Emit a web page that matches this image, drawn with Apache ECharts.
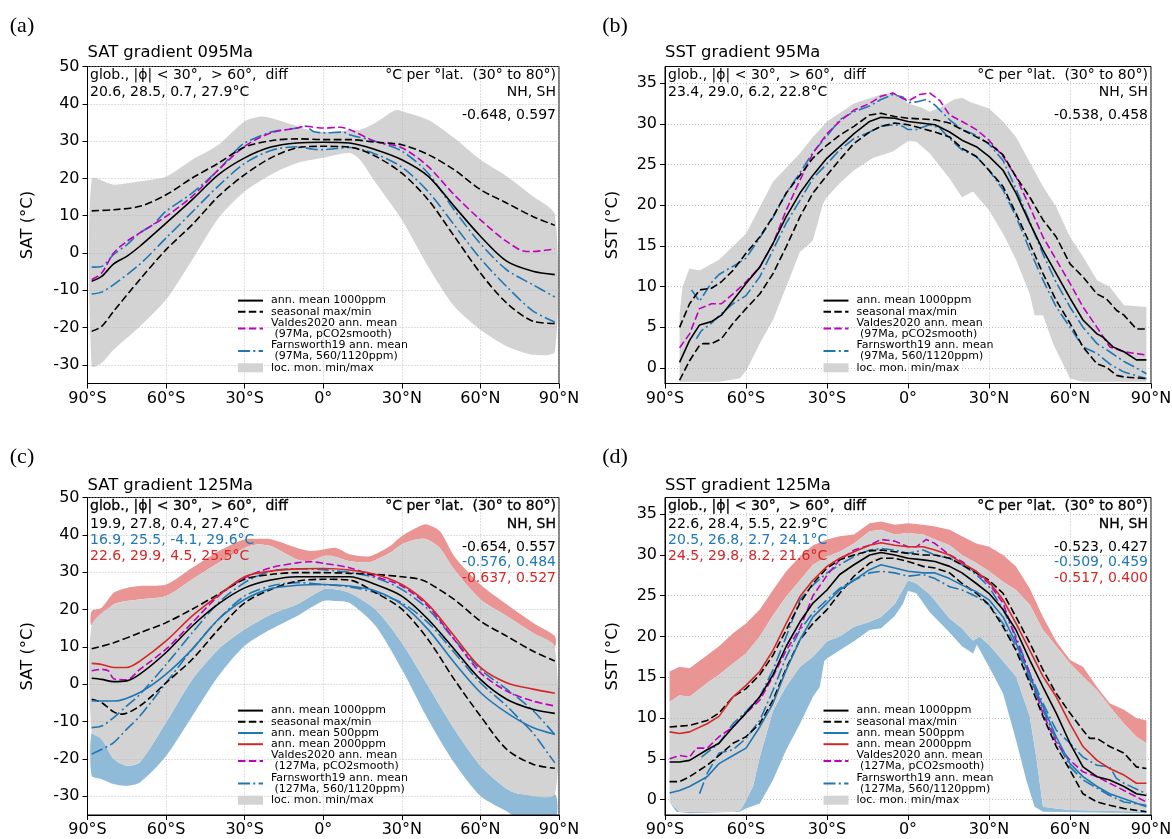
<!DOCTYPE html>
<html>
<head>
<meta charset="utf-8">
<script src="https://cdn.jsdelivr.net/npm/echarts@6/dist/echarts.min.js"></script>
<style>
html,body{margin:0;padding:0;background:#fff;}
#chart{width:1172px;height:839px;}
</style>
</head>
<body>
<div id="chart"></div>
<script>
// ---------- tick values ----------
const LAT_TICKS = [-90, -60, -30, 0, 30, 60, 90];
const SAT_TICKS = [-30, -20, -10, 0, 10, 20, 30, 40, 50];
const SST_TICKS = [0, 5, 10, 15, 20, 25, 30, 35];

// ---------- (a) SAT 95 Ma : [latitude, °C] ----------
const A_mean = [[-88.4,-7.6],[-84.6,-6.3],[-80,-2.9],[-75,-0.9],[-70,1.8],[-60,8],[-50,14.3],[-40,21],[-30,25.5],[-20,28.4],[-10,29.5],[0,29.7],[10,29.5],[20,27.7],[30,25],[40,20.6],[50,12.5],[60,4.5],[70,-2.2],[80,-4.9],[88.4,-5.8]];
const A_max = [[-88.4,11.3],[-80,11.6],[-70,12.5],[-60,15.6],[-50,20.1],[-40,24.1],[-30,28.4],[-20,30.1],[-10,30.6],[0,30.4],[10,30.4],[20,29.7],[30,29],[40,26.4],[50,22.3],[60,17],[70,13.4],[80,9.8],[88.4,7.4]];
const A_min = [[-88.4,-21],[-84.6,-19.7],[-80,-15.6],[-70,-7.1],[-60,0.9],[-50,7.6],[-40,15.2],[-30,21],[-20,25.5],[-10,28.2],[0,28.6],[10,28.4],[20,25.9],[30,21.4],[40,14.3],[50,4.5],[60,-5.4],[70,-13.4],[80,-18.3],[88.4,-18.9]];
const A_valdes = [[-88.4,-7.1],[-84.6,-5.4],[-80,0],[-75,3.1],[-70,5.4],[-60,9.8],[-50,15.2],[-40,22.3],[-30,28.6],[-20,32.2],[-10,33.5],[-7,34],[0,33.5],[6.4,33.7],[10,33.1],[20,29.9],[30,28.2],[40,23.2],[50,15.6],[60,8.9],[70,3.1],[77.6,0.4],[80,0.4],[88.4,1.1]];
const A_far1120 = [[-88.4,-3.8],[-84.6,-3.6],[-80,-0.4],[-75,2.2],[-70,5.4],[-65,7.6],[-60,11.2],[-50,16.1],[-40,22.3],[-33,27.7],[-30,29.5],[-20,32.4],[-10,33.5],[-7,34],[-3.8,32.6],[0,32.2],[7.6,32.4],[10,31.7],[20,29.9],[30,27.3],[40,21.4],[50,11.5],[60,2.5],[70,-4.5],[80,-8.5],[88.4,-11.8]];
const A_far560 = [[-88.4,-11],[-84.6,-10.5],[-80,-8.5],[-70,-3],[-60,4],[-50,11],[-40,18],[-30,24],[-20,27.5],[-10,28.5],[-3.8,27.8],[0,27.7],[5,28],[10,28.3],[20,26.5],[30,23],[40,16.5],[50,7.5],[60,-1.5],[70,-9],[80,-15.5],[88.4,-18.5]];
const A_bandHi = [[-88.4,19.8],[-80,18.3],[-70,19.2],[-60,20.5],[-50,25],[-40,29],[-30,35.3],[-24,36.6],[-20,36.2],[-10,34],[-5,32.9],[0,32.5],[5,32.5],[10,33],[14,33],[20,34.9],[25.5,37.5],[28,38.4],[30,38],[40,35.7],[50,30.8],[60,25],[70,20.6],[80,15.2],[88.4,10.3]];
const A_bandLo = [[-88.4,-30.4],[-84.6,-29.5],[-80,-25.9],[-70,-19.7],[-60,-12.5],[-50,-1.8],[-40,9.4],[-30,16.5],[-20,21],[-10,24.1],[0,25.5],[10,26.8],[14,25],[20,18.8],[30,8.9],[40,-3.6],[50,-14.3],[60,-20.6],[70,-25],[80,-27.3],[88.4,-26.4]];

// ---------- (b) SST 95 Ma ----------
const B_mean = [[-84.6,0.7],[-80.9,3.4],[-77.2,5.3],[-72.8,5.7],[-69.1,6.5],[-64.8,8.3],[-60,10.4],[-54.9,12.4],[-50,15.3],[-45.1,18.6],[-40,21.5],[-35.2,23.7],[-30,25.8],[-25.3,27.2],[-20,28.8],[-14.2,30.3],[-10,30.8],[-4.9,30.7],[0,30.3],[10,29.9],[15.4,29],[20,28],[25.3,27.2],[30,26],[35.2,24.3],[40,21.5],[45.1,17.8],[50,14.5],[54.9,11.6],[60,8.6],[64.8,5.9],[70,4.2],[72.2,3.8],[75.9,2.6],[80,2],[84.6,1],[88.3,1]];
const B_max = [[-84.6,5],[-80.9,7.9],[-77.2,9.6],[-72.8,9.8],[-69.1,10.6],[-64.8,12],[-60,14.1],[-54.9,16.1],[-50,18.6],[-45.1,21.5],[-40,23.7],[-35.2,25.8],[-30,27.4],[-25.3,28.6],[-20,29.7],[-14.2,31.1],[-10,31.3],[-4.9,30.9],[0,30.7],[10,30.5],[15.4,30.1],[20,29.3],[25.3,28.4],[30,27.6],[35.2,26.2],[40,23.5],[45.1,21],[50,18.2],[54.9,16.1],[60,12.8],[64.8,11.2],[70,9.1],[73.5,8.5],[77.2,7.1],[80,6.5],[84.6,4.8],[88.3,4.8]];
const B_min = [[-84.6,-1.5],[-80.9,0.9],[-77.2,2.8],[-75.9,3],[-72.8,3],[-69.1,3.6],[-64.8,5.5],[-60,7.3],[-54.9,9.1],[-50,11.6],[-45.1,14.9],[-40,18.6],[-35.2,21.5],[-30,23.7],[-25.3,25.6],[-20,27.6],[-14.2,29],[-10,29.7],[-4.9,30.1],[0,29.9],[10,29],[15.4,28.4],[20,27],[25.3,26],[30,24.3],[35.2,22.3],[40,19],[45.1,15.3],[50,11.6],[54.9,8.3],[60,5.5],[64.8,2.6],[70,0.5],[73.5,0.1],[77.2,-0.9],[80,-1.1],[88.3,-1.3]];
const B_valdes = [[-84.6,2.5],[-80.9,4.2],[-77.2,7.3],[-72.8,7.9],[-69.1,7.9],[-64.8,9.1],[-60,10.6],[-54.9,12.4],[-50,15.3],[-45.1,19.4],[-40,23.1],[-35.2,26.4],[-30,28.8],[-25.3,30.3],[-20,31.7],[-14.2,32.5],[-10,33.4],[-5.6,33.8],[-1.9,33.1],[0.6,32.9],[4.3,33.6],[8,33.8],[11.7,32.9],[15.4,31.1],[20,30.3],[25.3,29.3],[30,28],[35.2,26],[40,23.5],[45.1,19.8],[50,16.1],[54.9,13.3],[60,10.4],[64.8,7.5],[70,5],[74.7,2.6],[80,2],[88.3,1.6]];
const B_far1120 = [[-80.2,9.6],[-77.2,8.2],[-72.8,10.5],[-70,11.5],[-64.8,12.5],[-60,13.5],[-54.9,16],[-50,18.5],[-45.1,21.5],[-40,24],[-35.2,26.5],[-30,28.5],[-25.3,30.5],[-20,31.5],[-14.2,32.2],[-10,33],[-5.6,33.6],[-1.9,33.3],[0,32.6],[3.1,32.7],[6.8,33],[10,32.3],[15.4,30.5],[20,29.3],[25.3,28.6],[30,27.5],[35.2,25.5],[40,22],[45.1,18],[50,14],[54.9,10.5],[60,7.5],[64.8,5],[70,3],[74.7,2],[80,0.8],[84.6,0],[88.3,-0.7]];
const B_far560 = [[-78.4,3.6],[-76.5,4.6],[-72.8,5.5],[-69.1,6.7],[-64.8,7.9],[-60,8.9],[-54.9,11.2],[-50,14.5],[-45.1,17.8],[-40,20.6],[-35.2,23.3],[-30,25.1],[-25.3,26.8],[-20,28.2],[-14.2,29],[-10,29.7],[-4.9,29.9],[-1.9,29.7],[0,29.3],[3.1,29.3],[8,29.9],[11.7,29.5],[15.4,28.2],[20,26.8],[25.3,26],[30,24.3],[35.2,21.9],[40,18.6],[45.1,14.5],[50,10.8],[54.9,7.5],[60,5],[64.8,2.6],[70,1.8],[74.7,0.5],[80,-0.5],[88.3,-1.3]];
const B_bandHi = [[-84.6,6.7],[-83.5,10],[-81,12.2],[-77,12],[-70,13.3],[-60,16.5],[-50,22.9],[-40,26.4],[-35.2,28.4],[-30,30.3],[-20,32.5],[-10,33.6],[-5,33.8],[0,32.5],[5,32],[8,31.5],[12,32],[17,33],[20,33.2],[23,32.7],[30,31.9],[35.2,30.3],[40,28.4],[50,22.3],[54.9,19.8],[60,16.1],[64.8,13.7],[70,10.8],[74.7,10],[80,7.7],[88.3,7.5]];
const B_bandLo = [[-84.6,-1.7],[-70,-1.7],[-62.3,-1.3],[-59.9,-0.3],[-54.9,3],[-50,5.9],[-45.1,10],[-40,14.3],[-37.7,14.9],[-35.2,15.7],[-31.5,20.2],[-30,21],[-25.3,22.7],[-20,24.3],[-13,25.8],[-5.6,26.6],[0,27.9],[3.1,27.8],[8,26.4],[15.4,23.3],[20,21],[24.1,21.7],[30,19.4],[35.2,16.5],[40,13.3],[45.1,9.1],[46.9,6.5],[50,6.5],[53.7,3],[60,-1.3],[64.8,-1.7],[88.3,-1.7]];

// ---------- (c) SAT 125 Ma ----------
const C_mean = [[-88.4,1.6],[-84.6,1.3],[-80,0.7],[-75,0.9],[-70,2.7],[-60,8.5],[-50,15.6],[-40,21.5],[-30,25.8],[-20,27.9],[-10,28.8],[0,28.8],[10,28.8],[20,26.7],[30,23.6],[40,17.4],[50,9.4],[60,1.3],[70,-4],[80,-6.7],[88.4,-7.8]];
const C_max = [[-88.4,9.5],[-80,11.1],[-70,13.8],[-60,16.5],[-50,20.1],[-40,24.1],[-30,28.1],[-20,29.4],[-10,29.9],[0,29.9],[10,29.7],[20,29.4],[30,28.8],[36.9,28.1],[40,27.2],[50,22.7],[60,16.9],[70,12.9],[80,8.9],[88.4,6.2]];
const C_min = [[-88.4,-4],[-84.6,-4.9],[-80,-7.4],[-77,-8],[-70,-5.8],[-60,0.4],[-50,6.7],[-40,14.7],[-30,21.8],[-20,25.4],[-10,27.6],[0,28.1],[10,27.9],[20,24.5],[30,20.1],[40,12],[50,1.3],[60,-8.5],[70,-17.4],[80,-21.4],[88.4,-22.5]];
const C_mean500 = [[-88.4,-4.5],[-80,-4.5],[-70,-2.2],[-60,2.7],[-50,9.4],[-40,17.4],[-30,22.7],[-20,25.6],[-10,26.5],[0,26.7],[10,26.3],[20,25],[30,21.4],[40,14.7],[50,5.8],[60,-2.2],[70,-7.6],[80,-11.6],[88.4,-13.4]];
const C_mean2000 = [[-88.4,5.6],[-84.6,5.3],[-80,4.5],[-75,4.5],[-70,6.2],[-60,11.6],[-50,18.3],[-40,23.8],[-30,28.8],[-20,30.3],[-10,30.9],[0,31],[10,30.6],[20,29.4],[30,26.7],[40,21.4],[50,12.9],[60,4.5],[70,0.4],[80,-1.3],[88.4,-2.4]];
const C_valdes = [[-88.4,3.6],[-84.6,4],[-82,3.6],[-80,1.5],[-75,1.2],[-70,4],[-60,9.4],[-50,16.5],[-40,23.6],[-30,28.5],[-20,31.2],[-10,32.5],[-5,32.8],[0,32.4],[10,31.2],[20,28.8],[30,26.3],[40,20.9],[50,12],[60,3.1],[70,-1.8],[80,-4.5],[88.4,-5.8]];
const C_far1120 = [[-88.4,-11.6],[-84.6,-11.2],[-80,-8.9],[-75,-5.8],[-70,-2.7],[-60,5.3],[-50,13.8],[-40,21.8],[-30,27.2],[-20,30.3],[-10,30.9],[0,30.7],[5,30.3],[10,30],[20,28.5],[30,25.4],[40,20.1],[50,12],[60,4],[70,-1.3],[80,-7],[88.4,-13.5]];
const C_far560 = [[-88.4,-18.7],[-84.6,-17.4],[-80,-15.6],[-75,-12],[-70,-8.5],[-60,0.4],[-50,9.4],[-40,17.4],[-30,23.6],[-20,26.3],[-10,27.2],[0,26.7],[10,26.1],[20,24.5],[30,21.8],[40,16.5],[50,8.5],[60,0.4],[70,-5.8],[75,-9.4],[80,-13],[86.5,-19.2],[88.4,-21]];
const C_bandHi = [[-88.4,15.8],[-80,21.4],[-75,22.3],[-70,22.7],[-60,23.6],[-50,28.1],[-40,32.5],[-30,36.5],[-25.5,37.4],[-20,37],[-10,33.4],[-5,33],[0,34.3],[3.8,34.3],[10,33],[17.8,32.7],[25.5,35.2],[30,37.4],[35.6,38.8],[39.5,38.8],[44.5,36.5],[50,30.7],[60,22.7],[70,18.3],[80,13.8],[88.4,10.1]];
const C_bandLo = [[-88.4,-12.9],[-84.6,-14.7],[-80,-20],[-75,-21.8],[-70,-20.9],[-60,-10.2],[-50,1.3],[-40,9.4],[-30,14.7],[-20,18.7],[-10,21.4],[0,25.4],[5,25.4],[10,24.5],[20,20],[30,11.1],[40,-0.4],[50,-12],[60,-21.8],[70,-28],[75,-29.4],[88.4,-29.4]];
const C_bandHi2000 = [[-88.4,19.6],[-84.6,20.5],[-80,24.5],[-75,25.8],[-70,26.3],[-60,26.7],[-50,31.2],[-40,35.6],[-30,38.8],[-25.5,38.9],[-20,38.8],[-10,36.5],[-5,35.7],[0,36.1],[5,36.5],[10,34.8],[17.8,34.3],[25.5,37],[30,39.7],[35.6,41.9],[39.5,42.8],[44.5,41],[50,34.3],[60,26.7],[70,21.4],[80,16.5],[88.4,12.9]];
const C_bandLo500 = [[-88.4,-24.5],[-84.6,-25.4],[-80,-26.7],[-75,-27.2],[-70,-26.3],[-60,-19.2],[-50,-8.5],[-40,2.2],[-30,10.3],[-20,14.7],[-10,18.3],[0,22.3],[5,22.3],[10,21.8],[20,15.6],[30,4],[40,-9.4],[50,-21],[60,-29.9],[70,-34],[75,-36],[88.4,-36]];

// ---------- (d) SST 125 Ma ----------
const D_mean = [[-88.3,4.6],[-84.6,4.6],[-80.9,4.8],[-74.4,6.1],[-70,6.9],[-64.8,8.9],[-60,10.6],[-54.9,12.6],[-50,15.3],[-45.1,18.8],[-40,21.8],[-35.2,24.1],[-30,25.7],[-25.3,27.6],[-20,28.8],[-14.2,30],[-10,30.3],[-4.9,30],[0,29.6],[5.6,29.4],[10,29.2],[15.4,28.6],[20,27.8],[25.3,26.5],[30,25.3],[35.2,23.3],[40,20.8],[45.1,17.1],[50,13.8],[54.9,10.6],[60,6.9],[64.8,4],[70,2.8],[74.7,2.4],[80,1.6],[84.6,0.7],[88.3,0.5]];
const D_max = [[-88.3,8.9],[-80.9,9.1],[-74.4,9.7],[-70,10.6],[-64.8,12.6],[-60,13.6],[-54.9,15.3],[-50,17.7],[-45.1,20.8],[-40,24.1],[-35.2,26.5],[-30,28.4],[-25.3,29.4],[-20,30],[-14.2,30.5],[-10,30.6],[-4.9,30.4],[0,30.2],[5.6,30],[10,30],[15.4,29.6],[20,28.8],[25.3,27.8],[30,26.9],[35.2,25.3],[40,22.4],[45.1,19.2],[50,15.9],[54.9,13],[60,10.6],[64.8,8.5],[67.3,7.5],[70,7.5],[74.7,6.5],[80,5.7],[84.6,4],[88.3,3.8]];
const D_min = [[-88.3,2.2],[-84.6,2.2],[-80.9,2.8],[-74.4,4.2],[-70,5.4],[-64.8,6.9],[-60,7.7],[-54.9,9.3],[-50,12.2],[-45.1,16.1],[-40,19.6],[-35.2,21.6],[-30,23.3],[-25.3,25.3],[-20,27.4],[-14.2,29],[-10,29.6],[-4.9,29.6],[0,29.2],[5.6,28.6],[10,28.4],[15.4,27.8],[20,26.5],[25.3,25.3],[30,23.9],[35.2,21.2],[40,18.3],[45.1,14.3],[50,10.2],[54.9,6.5],[60,3.6],[64.8,0.7],[70,-0.3],[74.7,-0.7],[80,-1.1],[88.3,-1.5]];
const D_mean500 = [[-88.3,0.8],[-84.6,1.1],[-80.9,1.6],[-74.4,2.8],[-70,4.4],[-64.8,5.4],[-60,6.3],[-54.9,8.9],[-50,11.8],[-45.1,15.9],[-40,19.6],[-35.2,22.4],[-30,24.1],[-25.3,25.7],[-20,26.9],[-14.2,28.2],[-10,28.8],[-4.9,28.4],[0,28],[5.6,27.8],[10,27.8],[15.4,27.1],[20,26.3],[25.3,25.5],[30,24.5],[35.2,22.4],[40,19.2],[45.1,15.1],[50,11.4],[54.9,7.7],[60,4.4],[64.8,2.8],[70,1.6],[74.7,0.7],[80,0.1],[88.3,-0.9]];
const D_mean2000 = [[-88.3,8.3],[-84.6,8.1],[-80.9,8.3],[-74.4,9.3],[-70,10.2],[-64.8,12.6],[-60,14],[-54.9,15.7],[-50,18.3],[-45.1,21.6],[-40,24.9],[-35.2,26.9],[-30,28.6],[-25.3,29.6],[-20,30.4],[-14.2,31.2],[-10,31.5],[-4.9,31.2],[0,31],[5.6,31],[10,30.6],[15.4,30],[20,29],[25.3,28],[30,26.7],[35.2,24.5],[40,21.6],[45.1,18.3],[50,15.1],[54.9,12.6],[60,9.3],[64.8,6.5],[70,4.8],[74.7,3.8],[80,3],[84.6,2],[88.3,2]];
const D_valdes = [[-88.3,5],[-84.6,5.4],[-80.9,5.2],[-78.4,6.3],[-74.4,6.3],[-70,7.7],[-64.8,8.9],[-60,10.6],[-54.9,12.2],[-50,15.1],[-45.1,18.3],[-40,21],[-35.2,25],[-30,27.5],[-25.3,29.4],[-20,30.6],[-14.2,31.2],[-10,31.9],[-4.9,31.7],[0,31],[3.1,31],[6.8,31.9],[10,31.4],[15.4,30],[20,29.2],[25.3,27.8],[30,26.5],[35.2,24.1],[40,19.6],[45.1,15.5],[50,10.5],[54.9,7],[60,4.8],[64.8,3.4],[70,2.8],[74.7,2],[80,1.1],[88.3,-0.3]];
const D_far1120 = [[-76.5,5.2],[-70,6.9],[-64.8,9.3],[-60,10.8],[-54.9,12.6],[-50,15.9],[-45.1,20],[-40,24.5],[-35.2,26.3],[-30,27.8],[-25.3,28.8],[-20,29.8],[-14.2,30.6],[-10,30.8],[-4.9,30.6],[0,30.2],[5.6,30.6],[10,30],[15.4,29.6],[20,28.8],[25.3,27.6],[30,26.1],[35.2,23.3],[40,20],[45.1,15.5],[50,11.8],[54.9,8.5],[60,6.9],[64.8,5.2],[70,4.2],[74.7,4],[77.2,2.6],[80,2],[88.3,0.7]];
const D_far560 = [[-77.2,0.7],[-74.4,3.2],[-70,5.7],[-64.8,6.1],[-60,7.5],[-54.9,9.7],[-50,13.4],[-45.1,17.5],[-40,20.8],[-35.2,22.9],[-30,24.5],[-25.3,25.9],[-20,26.9],[-14.2,27.8],[-10,28],[-4.9,27.8],[0,27.4],[5.6,27.6],[10,27.1],[15.4,26.1],[20,25.7],[25.3,24.9],[30,23.9],[35.2,21.6],[40,18.8],[45.1,14.7],[50,11],[54.9,7.3],[60,4],[64.8,2.4],[70,1.4],[74.7,0.5],[80,-0.3],[88.3,-0.7]];
const D_bandHi = [[-88.3,12],[-84.6,12.8],[-80.9,12.6],[-74.4,14.3],[-70,15.3],[-64.8,16.7],[-60,17.9],[-54.9,20],[-50,22.6],[-45.1,24.9],[-40,26.9],[-35.2,28.8],[-30,29.8],[-25.3,30.4],[-20,31.4],[-14.2,32.9],[-10,33.1],[-4.9,32.5],[0,32.7],[5.6,32.5],[10,31.9],[15.4,31.2],[20,30],[25.3,29],[30,28],[35.2,26.7],[40,25.7],[45.1,23.9],[50,20.8],[54.9,18.8],[60,16.7],[64.8,15.1],[70,13.4],[74.7,11.4],[80,9.3],[84.6,7.7],[88.3,6.9]];
const D_bandLo = [[-88.3,-0.3],[-84.6,-1.5],[-64.8,-1.5],[-62,-1.3],[-60,-0.1],[-57.4,1.6],[-54.9,5.2],[-50,10.9],[-45.1,13.9],[-40,16.3],[-35.2,17.5],[-30,19.4],[-25.3,20],[-20,21.2],[-14.2,21.8],[-10,22.4],[-4.9,24],[0,26.9],[3.1,26.5],[8,25.2],[15.4,22.2],[20,21],[21.6,20.4],[24.1,19.5],[26.5,20],[30,19],[35.2,17],[40,15.1],[45.1,10.2],[47.5,5.2],[50,-0.9],[54.9,-1.1],[60,-1.3],[88.3,-1.5]];
const D_bandHi2000 = [[-88.3,15.7],[-84.6,16.3],[-80.9,16.1],[-74.4,17.7],[-70,18.8],[-64.8,20.4],[-60,21.6],[-54.9,23.3],[-50,25.7],[-45.1,28],[-40,29.8],[-35.2,31.2],[-30,31.9],[-25.3,32.3],[-20,32.5],[-14.2,33.9],[-10,34.1],[-4.9,33.7],[0,33.9],[5.6,33.7],[10,33.5],[15.4,33.1],[20,32.3],[25.3,31.4],[30,31],[35.2,30],[40,28.6],[45.1,25.9],[50,22.4],[54.9,19.4],[60,17.1],[64.8,16.3],[70,13.8],[74.7,11.8],[80,11],[84.6,10],[88.3,9.7]];
const D_bandLo500 = [[-88.3,-0.3],[-85.8,-1.5],[-80.9,-1.7],[-62.3,-1.5],[-60,-1.1],[-54.9,-0.5],[-50,2.4],[-45.1,6.1],[-40,9.3],[-35.2,12.6],[-32.7,13.8],[-31,17],[-30,17.3],[-25.3,18.3],[-20,19.4],[-14.2,20.8],[-10,21],[-4.9,22.5],[-1.9,24],[0,25.6],[3.1,25.3],[8,23],[15.4,20.5],[20,18.8],[24.1,17.9],[25.5,19],[30,16.3],[35.2,13],[40,7.3],[43.8,2.4],[46.9,-0.9],[50,-1.5],[88.3,-1.7]];

// ---------- style constants ----------
const FONT = 'DejaVu Sans';
const BLACK = '#000000', MAG = '#bf00bf', TBLUE = '#1f77b4', TRED = '#d62728';
const GRAY = '#d3d3d3', RBAND = '#ea9494', BBAND = '#8fbbd9';
const DASH = [7.5, 3.3];
const DASHDOT = [12, 3.3, 2, 3.3];

const N_MEAN = 'ann. mean 1000ppm';
const N_SEAS = 'seasonal max/min';
const N_500 = 'ann. mean 500ppm';
const N_2000 = 'ann. mean 2000ppm';
const N_VAL95 = 'Valdes2020 ann. mean\n (97Ma, pCO2smooth)';
const N_FAR95 = 'Farnsworth19 ann. mean\n (97Ma, 560/1120ppm)';
const N_VAL127 = 'Valdes2020 ann. mean\n (127Ma, pCO2smooth)';
const N_FAR127 = 'Farnsworth19 ann. mean\n (127Ma, 560/1120ppm)';
const N_BAND = 'loc. mon. min/max';

// ---------- layout ----------
const GRIDS = [
  {left: 87.5, top: 66.5, width: 471.5, height: 317},
  {left: 665, top: 66.5, width: 486, height: 317},
  {left: 87.5, top: 497.5, width: 471.5, height: 317.5},
  {left: 665, top: 497.5, width: 486, height: 317.5}
];

function latLabel(v) {
  if (v === 0) return '0°';
  return Math.abs(v) + '°' + (v < 0 ? 'S' : 'N');
}

function xAxisFor(gi) {
  return {
    type: 'value', gridIndex: gi, min: -90, max: 90, interval: 30,
    axisLine: {show: true, onZero: false, lineStyle: {color: '#000', width: 1}},
    axisTick: {show: true, inside: false, length: 5, lineStyle: {color: '#000'}},
    axisLabel: {show: true, formatter: latLabel, color: '#000', fontFamily: FONT, fontSize: 16, margin: 7,
      showMinLabel: true, showMaxLabel: true},
    splitLine: {show: true, lineStyle: {color: '#b0b0b0', width: 0.8, type: [1, 2]}}
  };
}

function yAxisFor(gi, name, lo, hi, ticks, gap) {
  return {
    type: 'value', gridIndex: gi, min: lo, max: hi,
    name: name, nameLocation: 'middle', nameGap: gap, nameRotate: 90,
    nameTextStyle: {color: '#000', fontFamily: FONT, fontSize: 16.4},
    axisLine: {show: true, onZero: false, lineStyle: {color: '#000', width: 1}},
    axisTick: {show: true, inside: false, length: 5, customValues: ticks, lineStyle: {color: '#000'}},
    axisLabel: {show: true, customValues: ticks, color: '#000', fontFamily: FONT, fontSize: 16, margin: 8},
    splitLine: {show: true, lineStyle: {color: '#b0b0b0', width: 0.8, type: [1, 2]}}
  };
}

function line(gi, name, data, color, dash, smooth) {
  return {
    type: 'line', name: name, xAxisIndex: gi, yAxisIndex: gi, data: data,
    symbol: 'none', showSymbol: false, smooth: smooth, silent: true, animation: false,
    lineStyle: {color: color, width: 1.6, type: dash}, itemStyle: {color: color}, z: 3
  };
}

// Filled envelope between an upper and a lower curve, drawn as one polygon in data coordinates.
function band(gi, name, upper, lower, color, smooth) {
  return {
    type: 'custom', name: name, coordinateSystem: 'cartesian2d', xAxisIndex: gi, yAxisIndex: gi,
    data: upper, encode: {x: 0, y: 1}, silent: true, animation: false, z: -1,
    itemStyle: {color: color},
    renderItem: function (params, api) {
      if (params.dataIndex !== 0) return null;
      const pts = upper.map(p => api.coord(p))
        .concat(lower.slice().reverse().map(p => api.coord(p)));
      const cs = params.coordSys;
      return {
        type: 'polygon',
        shape: {points: pts, smooth: smooth},
        style: {fill: color},
        clipPath: {type: 'rect', shape: {x: cs.x, y: cs.y, width: cs.width, height: cs.height}}
      };
    }
  };
}

const S = 0.3; // curve smoothing for the SAT panels

const series = [
  // (a)
  band(0, N_BAND, A_bandHi, A_bandLo, GRAY, 0.25),
  line(0, N_FAR95, A_far1120, TBLUE, DASHDOT, S),
  line(0, N_FAR95, A_far560, TBLUE, DASHDOT, S),
  line(0, N_VAL95, A_valdes, MAG, DASH, S),
  line(0, N_SEAS, A_max, BLACK, DASH, S),
  line(0, N_SEAS, A_min, BLACK, DASH, S),
  line(0, N_MEAN, A_mean, BLACK, 'solid', S),
  // (b)
  band(1, N_BAND, B_bandHi, B_bandLo, GRAY, 0),
  line(1, N_FAR95, B_far1120, TBLUE, DASHDOT, false),
  line(1, N_FAR95, B_far560, TBLUE, DASHDOT, false),
  line(1, N_VAL95, B_valdes, MAG, DASH, false),
  line(1, N_SEAS, B_max, BLACK, DASH, false),
  line(1, N_SEAS, B_min, BLACK, DASH, false),
  line(1, N_MEAN, B_mean, BLACK, 'solid', false),
  // (c)
  band(2, 'max 2000ppm', C_bandHi2000, C_bandHi, RBAND, 0.25),
  band(2, 'min 500ppm', C_bandLo, C_bandLo500, BBAND, 0.25),
  band(2, N_BAND, C_bandHi, C_bandLo, GRAY, 0.25),
  line(2, N_FAR127, C_far1120, TBLUE, DASHDOT, S),
  line(2, N_FAR127, C_far560, TBLUE, DASHDOT, S),
  line(2, N_VAL127, C_valdes, MAG, DASH, S),
  line(2, N_SEAS, C_max, BLACK, DASH, S),
  line(2, N_SEAS, C_min, BLACK, DASH, S),
  line(2, N_500, C_mean500, TBLUE, 'solid', S),
  line(2, N_2000, C_mean2000, TRED, 'solid', S),
  line(2, N_MEAN, C_mean, BLACK, 'solid', S),
  // (d)
  band(3, 'max 2000ppm', D_bandHi2000, D_bandHi, RBAND, 0),
  band(3, 'min 500ppm', D_bandLo, D_bandLo500, BBAND, 0),
  band(3, N_BAND, D_bandHi, D_bandLo, GRAY, 0),
  line(3, N_FAR127, D_far1120, TBLUE, DASHDOT, false),
  line(3, N_FAR127, D_far560, TBLUE, DASHDOT, false),
  line(3, N_VAL127, D_valdes, MAG, DASH, false),
  line(3, N_SEAS, D_max, BLACK, DASH, false),
  line(3, N_SEAS, D_min, BLACK, DASH, false),
  line(3, N_500, D_mean500, TBLUE, 'solid', false),
  line(3, N_2000, D_mean2000, TRED, 'solid', false),
  line(3, N_MEAN, D_mean, BLACK, 'solid', false)
];

// Legend: plain line handles (marker hidden) and a flat rectangle for the envelope.
function legendFor(left, top, names) {
  return {
    orient: 'vertical', left: left, top: top, padding: 0, itemGap: 0,
    itemWidth: 25, itemHeight: 9, selectedMode: false,
    textStyle: {fontFamily: FONT, fontSize: 11, lineHeight: 11.2, color: '#000', padding: [0, 0, 0, 3]},
    data: names.map(n => n === N_BAND
      ? {name: n, icon: 'rect'}
      : {name: n, itemStyle: {opacity: 0}})
  };
}

// ---------- text ----------
function txt(x, y, s, size, opts) {
  opts = opts || {};
  const st = {
    text: s, fill: opts.color || '#000', font: size + 'px ' + (opts.family || FONT),
    textAlign: opts.align || 'left', align: opts.align || 'left',
    textVerticalAlign: 'middle', verticalAlign: 'middle'
  };
  if (opts.heavy) { st.stroke = opts.color || '#000'; st.lineWidth = 0.3; }
  return {type: 'text', x: x, y: y, silent: true, style: st, z: 10};
}

const HEAD_L = 'glob., |ϕ| < 30°,  > 60°,  diff';
const HEAD_R = '°C per °lat.  (30° to 80°)';
const AF = 14;

const graphics = [
  txt(22, 26, '(a)', 22, {family: 'Liberation Serif', align: 'center'}),
  txt(615, 26, '(b)', 22, {family: 'Liberation Serif', align: 'center'}),
  txt(22, 457, '(c)', 22, {family: 'Liberation Serif', align: 'center'}),
  txt(615, 457, '(d)', 22, {family: 'Liberation Serif', align: 'center'}),
  txt(87.5, 53, 'SAT gradient 095Ma', 16.4),
  txt(665, 53, 'SST gradient 95Ma', 16.4),
  txt(87.5, 486, 'SAT gradient 125Ma', 16.4),
  txt(665, 486, 'SST gradient 125Ma', 16.4),
  // (a)
  txt(90, 75, HEAD_L, AF),
  txt(90, 92.7, '20.6, 28.5, 0.7, 27.9°C', AF),
  txt(556, 75, HEAD_R, AF, {align: 'right'}),
  txt(556, 92.7, 'NH, SH', AF, {align: 'right'}),
  txt(556, 115, '-0.648, 0.597', AF, {align: 'right'}),
  // (b)
  txt(668, 75, HEAD_L, AF),
  txt(668, 92.7, '23.4, 29.0, 6.2, 22.8°C', AF),
  txt(1148, 75, HEAD_R, AF, {align: 'right'}),
  txt(1148, 92.7, 'NH, SH', AF, {align: 'right'}),
  txt(1148, 115, '-0.538, 0.458', AF, {align: 'right'}),
  // (c)
  txt(90, 506, HEAD_L, AF, {heavy: true}),
  txt(90, 524.3, '19.9, 27.8, 0.4, 27.4°C', AF),
  txt(90, 540, '16.9, 25.5, -4.1, 29.6°C', AF, {color: TBLUE}),
  txt(90, 556, '22.6, 29.9, 4.5, 25.5°C', AF, {color: TRED}),
  txt(556, 506, HEAD_R, AF, {align: 'right', heavy: true}),
  txt(556, 524.3, 'NH, SH', AF, {align: 'right', heavy: true}),
  txt(556, 547.3, '-0.654, 0.557', AF, {align: 'right'}),
  txt(556, 562.7, '-0.576, 0.484', AF, {align: 'right', color: TBLUE}),
  txt(556, 578.3, '-0.637, 0.527', AF, {align: 'right', color: TRED}),
  // (d)
  txt(668, 506, HEAD_L, AF, {heavy: true}),
  txt(668, 524.3, '22.6, 28.4, 5.5, 22.9°C', AF),
  txt(668, 540, '20.5, 26.8, 2.7, 24.1°C', AF, {color: TBLUE}),
  txt(668, 556, '24.5, 29.8, 8.2, 21.6°C', AF, {color: TRED}),
  txt(1148, 506, HEAD_R, AF, {align: 'right', heavy: true}),
  txt(1148, 524.3, 'NH, SH', AF, {align: 'right', heavy: true}),
  txt(1148, 547.3, '-0.523, 0.427', AF, {align: 'right'}),
  txt(1148, 562.7, '-0.509, 0.459', AF, {align: 'right', color: TBLUE}),
  txt(1148, 578.3, '-0.517, 0.400', AF, {align: 'right', color: TRED})
];

const option = {
  animation: false,
  backgroundColor: '#fff',
  textStyle: {fontFamily: FONT},
  grid: GRIDS.map(g => Object.assign({show: true, borderColor: '#000', borderWidth: 1,
    backgroundColor: 'transparent', containLabel: false, outerBoundsMode: 'none'}, g)),
  xAxis: [0, 1, 2, 3].map(xAxisFor),
  yAxis: [
    yAxisFor(0, 'SAT (°C)', -35, 50, SAT_TICKS, 52),
    yAxisFor(1, 'SST (°C)', -1.9, 37.05, SST_TICKS, 44),
    yAxisFor(2, 'SAT (°C)', -35, 50, SAT_TICKS, 52),
    yAxisFor(3, 'SST (°C)', -1.9, 37.05, SST_TICKS, 44)
  ],
  legend: [
    legendFor(237, 295, [N_MEAN, N_SEAS, N_VAL95, N_FAR95, N_BAND]),
    legendFor(822.5, 295, [N_MEAN, N_SEAS, N_VAL95, N_FAR95, N_BAND]),
    legendFor(237, 705, [N_MEAN, N_SEAS, N_500, N_2000, N_VAL127, N_FAR127, N_BAND]),
    legendFor(822.5, 705, [N_MEAN, N_SEAS, N_500, N_2000, N_VAL127, N_FAR127, N_BAND])
  ],
  graphic: {elements: graphics},
  series: series
};

const chart = echarts.init(document.getElementById('chart'), null, {renderer: 'canvas'});
chart.setOption(option);
</script>
</body>
</html>
